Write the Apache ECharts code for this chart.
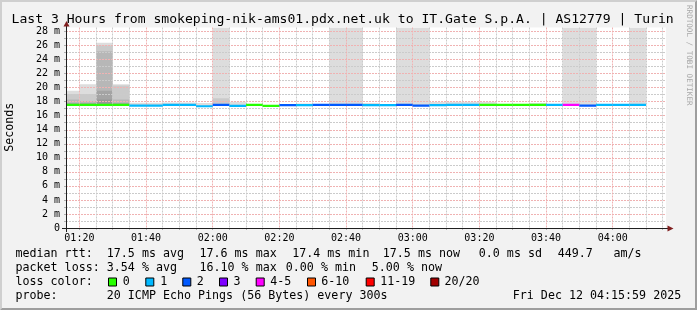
<!DOCTYPE html>
<html><head><meta charset="utf-8">
<script src="https://cdn.jsdelivr.net/npm/echarts@6/dist/echarts.min.js"></script>
<style>html,body{margin:0;padding:0;background:#f2f2f2}#c{width:697px;height:310px}</style>
</head><body><div id="c"></div>
<script>
// ---------------- data ----------------
const titleText = 'Last 3 Hours from smokeping-nik-ams01.pdx.net.uk to IT.Gate S.p.A. | AS12779 | Turin';
const yAxisName = 'Seconds';
const watermark = 'RRDTOOL / TOBI OETIKER';
const xStart = '01:15:59';
const xEnd = '04:15:59';
const stepMinutes = 5;
const yMaxMs = 28.57;
const stepEnd = ['01:20','01:25','01:30','01:35','01:40','01:45','01:50','01:55','02:00','02:05',
  '02:10','02:15','02:20','02:25','02:30','02:35','02:40','02:45','02:50','02:55',
  '03:00','03:05','03:10','03:15','03:20','03:25','03:30','03:35','03:40','03:45',
  '03:50','03:55','04:00','04:05','04:10'];
const medianMs = [17.55,17.55,17.55,17.55,17.45,17.45,17.55,17.55,17.35,17.55,
  17.4,17.55,17.4,17.5,17.5,17.55,17.55,17.55,17.5,17.5,
  17.55,17.45,17.5,17.55,17.55,17.55,17.55,17.55,17.55,17.55,
  17.55,17.45,17.55,17.55,17.55];
const lostPings = [0,0,0,0,1,1,1,1,1,2, 1,0,0,2,1,2,2,2,1,1, 2,2,1,1,1,0,0,0,0,1, 4,2,1,1,1];
// smoke: upper edges of the ping-distribution layers (outermost first), null = none visible
const smokeTop1 = [19.56,20.5,26.4,20.5,17.85,17.85,17.9,17.9,17.8,30,
  18.0,null,null,null,17.75,null,30,30,17.8,null,
  30,30,17.95,18.0,18.0,18.0,null,null,17.8,null,
  30,30,null,null,30];
const smokeTop2 = [19.1,19.1,26.0,20.3,null,null,null,null,null,18.5,
  null,null,null,null,null,null,null,null,null,null,
  null,null,null,null,null,null,null,null,null,null,
  null,null,null,null,null];
const smokeTop3 = [18.3,18.1,25.2,18.3,null,null,null,null,null,null,
  null,null,null,null,null,null,null,null,null,null,
  null,null,null,null,null,null,null,null,null,null,
  null,null,null,null,null];
const smokeTop4 = [17.8,17.8,19.56,17.8,null,null,null,null,null,null,
  null,null,null,null,null,null,null,null,null,null,
  null,null,null,null,null,null,null,null,null,null,
  null,null,null,null,null];
const smokeTop5 = [null,null,18.3,null,null,null,null,null,null,null,
  null,null,null,null,null,null,null,null,null,null,
  null,null,null,null,null,null,null,null,null,null,
  null,null,null,null,null];
const lossBinLabels = ['0','1','2','3','4-5','6-10','11-19','20/20'];
const lossBinMax = [0,1,2,3,5,10,19,20];
const lossBinColors = ['#26ff00','#00b8ff','#0059ff','#7e00ff','#ff00ff','#ff5500','#ff0000','#a10000'];
const rttStats = ['median rtt:','17.5 ms avg','17.6 ms max','17.4 ms min','17.5 ms now','0.0 ms sd','449.7','am/s'];
const lossStats = ['packet loss:','3.54 % avg','16.10 % max','0.00 % min','5.00 % now'];
const lossColorLabel = 'loss color:';
const probeInfo = ['probe:','20 ICMP Echo Pings (56 Bytes) every 300s','Fri Dec 12 04:15:59 2025'];

// ---------------- helpers ----------------
function toMin(s){ const p = s.split(':').map(Number); return p[0]*60 + p[1] + (p[2]||0)/60; }
function hhmm(v){ const h = Math.floor(v/60), m = Math.round(v%60); return String(h).padStart(2,'0')+':'+String(m).padStart(2,'0'); }
function lossColor(n){ for (let i=0;i<lossBinMax.length;i++){ if (n <= lossBinMax[i]) return lossBinColors[i]; } return lossBinColors[lossBinColors.length-1]; }
const xMin = toMin(xStart), xMax = toMin(xEnd);
const smokeLayers = [smokeTop1, smokeTop2, smokeTop3, smokeTop4, smokeTop5];
const smokeColors = ['#dddddd','#cacaca','#b7b7b7','#a4a4a4','#979797'];
const stepData = stepEnd.map((e,i) => {
  const end = toMin(e), start = Math.max(xMin, end - stepMinutes), m = medianMs[i];
  return [start, end, m, lostPings[i]].concat(smokeLayers.map(L => L[i] == null ? m : L[i]));
});

const MONO = "'DejaVu Sans Mono', monospace";
const GRID_MINOR = '#cbcbcb', GRID_MAJOR = '#f0b2b2';

function renderSmoke(params, api){
  const s = api.value(0), e = api.value(1), m = api.value(2);
  const cs = params.coordSys;
  const children = [];
  for (let L = 0; L < 5; L++){
    const top = api.value(4+L);
    if (!(top > m)) continue;
    const p0 = api.coord([s, top]), p1 = api.coord([e, m]);
    const r = echarts.graphic.clipRectByRect(
      {x:p0[0], y:p0[1], width:p1[0]-p0[0], height:p1[1]-p0[1]},
      {x:cs.x, y:cs.y, width:cs.width, height:cs.height});
    if (r) children.push({type:'rect', shape:r, style:{fill:smokeColors[L]}});
  }
  return {type:'group', children};
}
function renderMedian(params, api){
  const s = api.value(0), e = api.value(1), m = api.value(2), lost = api.value(3);
  const p0 = api.coord([s, m]), p1 = api.coord([e, m]);
  return {type:'rect', shape:{x:p0[0], y:p0[1]-1.1, width:p1[0]-p0[0], height:2.2}, style:{fill:lossColor(lost)}};
}

// ---------------- decorations (text, frame) ----------------
const g = [];
function txt(x, y, s, size, opts){
  opts = opts || {};
  g.push({type:'text', x:x, y:y, rotation:opts.rot||0, z:10, silent:true,
    style:{text:s, x:0, y:0, fontFamily:MONO, fontSize:size, fill:opts.fill||'#000',
      align:opts.align||'left', verticalAlign:'middle'}});
}
// frame
g.push({type:'polygon', shape:{points:[[0,310],[2,308],[2,2],[695,2],[697,0],[0,0]]}, style:{fill:'#cfcfcf'}, z:10, silent:true});
g.push({type:'polygon', shape:{points:[[2,308],[695,308],[695,2],[697,0],[697,310],[0,310]]}, style:{fill:'#9e9e9e'}, z:10, silent:true});
// title
txt(11.5, 19.5, titleText, 13.1);
// watermark
txt(689, 5, watermark, 7.6, {rot:-Math.PI/2, fill:'#a8a8a8'});
// y axis name
txt(10, 127.3, yAxisName, 11.67, {rot:Math.PI/2, align:'center'});
// axis lines, extensions & arrows
g.push({type:'line', shape:{x1:62, y1:228.5, x2:668, y2:228.5}, style:{stroke:'#1f1f1f', lineWidth:1}, z:9, silent:true});
g.push({type:'line', shape:{x1:66.5, y1:232, x2:66.5, y2:26}, style:{stroke:'#1f1f1f', lineWidth:1}, z:9, silent:true});
g.push({type:'polygon', shape:{points:[[63.5,26.5],[69.5,26.5],[66.5,21]]}, style:{fill:'#801f1f'}, z:10, silent:true});
g.push({type:'polygon', shape:{points:[[667.5,225.5],[667.5,231.5],[673.5,228.5]]}, style:{fill:'#801f1f'}, z:10, silent:true});
// legend rows
const rowY = [254.3, 268.3, 282.2, 296.1];
const rttX = [15.5, 106.8, 199.5, 292.2, 382.8, 478.8, 557.8, 613.5];
rttStats.forEach((s,i) => txt(rttX[i], rowY[0], s, 11.67));
const lossX = [15.5, 106.8, 199.5, 285.8, 371.8];
lossStats.forEach((s,i) => txt(lossX[i], rowY[1], s, 11.67));
txt(15.5, rowY[2], lossColorLabel, 11.67);
const boxX = [108.5, 145.8, 182.8, 219.5, 256.2, 307.5, 366.2, 430.8];
const boxLabelX = [122.8, 160.2, 196.8, 233.5, 270.2, 321.2, 380.2, 444.5];
lossBinLabels.forEach((s,i) => {
  g.push({type:'rect', shape:{x:boxX[i], y:278, width:8, height:8}, style:{fill:lossBinColors[i], stroke:'#000', lineWidth:1}, z:10, silent:true});
  txt(boxLabelX[i], rowY[2], s, 11.67);
});
const probeX = [15.5, 106.8, 512.8];
probeInfo.forEach((s,i) => txt(probeX[i], rowY[3], s, 11.67));

// ---------------- chart ----------------
const chart = echarts.init(document.getElementById('c'), null, {renderer:'canvas', width:697, height:310});
chart.setOption({
  animation:false,
  backgroundColor:'#f2f2f2',
  grid:{left:66, top:27.5, width:600, height:200.5, show:true, backgroundColor:'#ffffff', borderWidth:0, containLabel:false},
  xAxis:{type:'value', min:xMin, max:xMax, splitNumber:36, minInterval:5, maxInterval:5, z:3,
    axisLine:{show:false},
    axisTick:{show:true, length:2, lineStyle:{color:'#b0b0b0'}},
    axisLabel:{show:true, showMinLabel:true, showMaxLabel:false, margin:5, fontFamily:MONO, fontSize:10, color:'#000',
      formatter: v => (Math.abs(v % 20) < 1e-6 ? hhmm(v) : '')},
    splitLine:{show:true, showMaxLine:false, lineStyle:{color:[GRID_MINOR, GRID_MAJOR, GRID_MINOR, GRID_MINOR], type:[2,1], width:1}}
  },
  yAxis:{type:'value', min:0, max:yMaxMs, interval:1, z:3,
    axisLine:{show:false},
    axisTick:{show:true, length:2, lineStyle:{color:'#b0b0b0'}},
    axisLabel:{show:true, showMaxLabel:false, margin:6, fontFamily:MONO, fontSize:10, color:'#000',
      formatter: v => (v === 0 ? '0' : (Math.abs(v % 2) < 1e-6 ? v + ' m' : ''))},
    splitLine:{show:true, showMaxLine:false, lineStyle:{color:[GRID_MAJOR, GRID_MINOR], type:[2,1], width:1}}
  },
  series:[
    {type:'custom', name:'smoke', renderItem:renderSmoke, data:stepData, clip:true, z:2, silent:true,
      encode:{x:[0,1], y:[2]}},
    {type:'custom', name:'median', renderItem:renderMedian, data:stepData, clip:true, z:5, silent:true,
      encode:{x:[0,1], y:[2]}}
  ],
  graphic:{elements:g}
});
</script>
</body></html>
